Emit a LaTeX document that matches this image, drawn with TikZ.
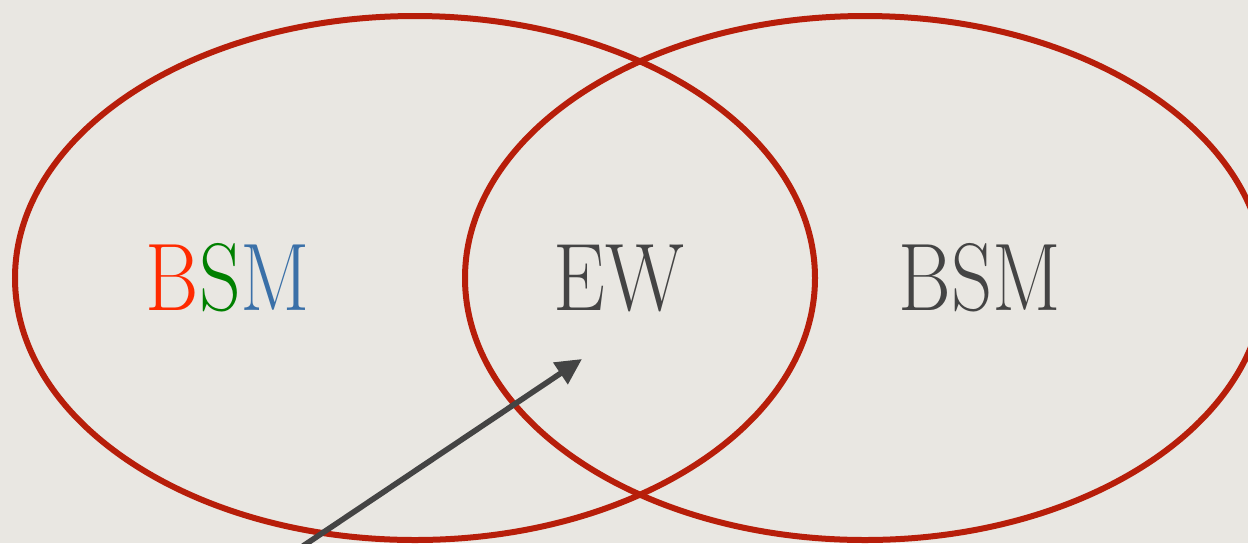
\documentclass[tikz,border=0pt]{standalone}
\usetikzlibrary{shapes.geometric,arrows.meta}
\definecolor{paper}{RGB}{233,231,226}
\definecolor{crayon}{RGB}{183,30,10}
\definecolor{ink}{RGB}{68,68,68}
\definecolor{cB}{RGB}{255,42,0}
\definecolor{cS}{RGB}{0,128,0}
\definecolor{cM}{RGB}{58,112,168}
\tikzset{
  venn/.style={ellipse, draw=crayon, line width=3pt, minimum width=400pt, minimum height=262pt, inner sep=0pt},
  label text/.style={anchor=base, inner sep=0pt, text=ink, font=\fontsize{48}{48}\selectfont},
  pointer/.style={draw=ink, line width=2.8pt, -{Triangle[length=13pt,width=12.5pt]}}
}
\begin{document}
\begin{tikzpicture}[x=0.5pt,y=-0.5pt]
\fill[paper] (0,0) rectangle (1248,543);
\useasboundingbox (0,0) rectangle (1248,543);
\node[venn] (L) at (415,278) {};
\node[venn] (R) at (865,278) {};
\node[label text] (bsmL) at (228,310) {\scalebox{0.85}[1]{\textcolor{cB}{B}\textcolor{cS}{S}\textcolor{cM}{M}}};
\node[label text] (ew) at (619,310) {\scalebox{0.86}[1]{EW}};
\node[label text] (bsmR) at (980,310) {\scalebox{0.84}[1]{BSM}};
\coordinate (tail) at (303,546);
\coordinate (head) at (582,359);
\draw[pointer] (tail) -- (head);
\end{tikzpicture}
\end{document}
